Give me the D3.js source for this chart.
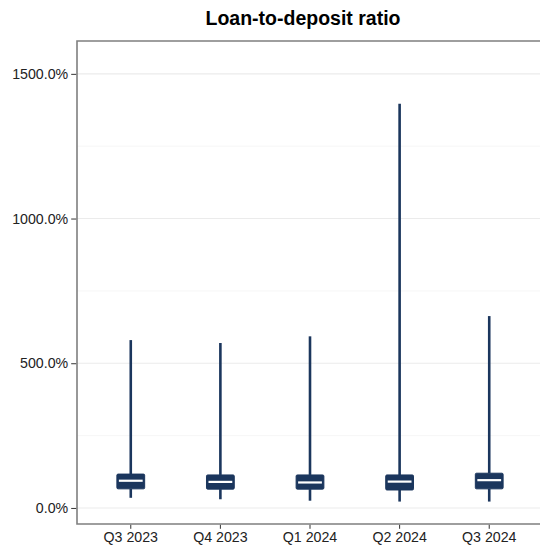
<!DOCTYPE html>
<html>
<head>
<meta charset="utf-8">
<script src="https://cdn.jsdelivr.net/npm/d3@7"></script>
<style>
  html, body { margin: 0; padding: 0; background: #fff; }
  svg { display: block; font-family: "Liberation Sans", Arial, sans-serif; }
</style>
</head>
<body>
<svg id="chart" width="540" height="547"></svg>
<script>
// Quarterly distribution of loan-to-deposit ratio (%)
const quarters = ["Q3 2023", "Q4 2023", "Q1 2024", "Q2 2024", "Q3 2024"];
const whiskerLow = [35, 30, 25, 22, 22];
const lowerQuartile = [66, 65, 65, 62, 66];
const medians = [94, 90, 88, 91, 96];
const upperQuartile = [117, 114, 114, 114, 120];
const whiskerHigh = [580, 570, 593, 1397, 663];
const yTicks = [0, 500, 1000, 1500];
const yMinorTicks = [250, 750, 1250];

const rows = quarters.map((q, i) => ({
  q, lo: whiskerLow[i], q1: lowerQuartile[i], med: medians[i],
  q3: upperQuartile[i], hi: whiskerHigh[i]
}));

const svg = d3.select("#chart");
const panel = { left: 77, right: 543, top: 41, bottom: 524 };
const navy = "#1b365d";

const x = d3.scaleBand()
  .domain(quarters)
  .range([panel.left, panel.right])
  .paddingOuter(0.1)
  .paddingInner(0);

const y = d3.scaleLinear()
  .domain([-55.5, 1613.5])
  .range([panel.bottom, panel.top]);

// grid
svg.append("g").selectAll("line.minor").data(yMinorTicks).join("line")
  .attr("x1", panel.left).attr("x2", panel.right)
  .attr("y1", d => y(d)).attr("y2", d => y(d))
  .attr("stroke", "#f5f5f5").attr("stroke-width", 0.8);
svg.append("g").selectAll("line.major").data(yTicks).join("line")
  .attr("x1", panel.left).attr("x2", panel.right)
  .attr("y1", d => y(d)).attr("y2", d => y(d))
  .attr("stroke", "#ebebeb").attr("stroke-width", 1.1);

// panel border (top, left, bottom)
svg.append("path")
  .attr("d", `M${panel.right},${panel.top}H${panel.left}V${panel.bottom}H${panel.right}`)
  .attr("fill", "none").attr("stroke", "#7f7f7f").attr("stroke-width", 1.6);

// axes
const yAxis = d3.axisLeft(y).tickValues(yTicks).tickSize(5).tickPadding(3)
  .tickFormat(d => d3.format(".1f")(d) + "%");
const gy = svg.append("g").attr("transform", `translate(${panel.left - 0.8},0)`).call(yAxis);
gy.select(".domain").remove();
gy.selectAll(".tick line").attr("stroke", "#333").attr("stroke-width", 1);
gy.selectAll(".tick text").attr("fill", "#222").attr("font-size", 14.2);

const xAxis = d3.axisBottom(x).tickSize(4).tickPadding(3);
const gx = svg.append("g").attr("transform", `translate(0,${panel.bottom + 0.8})`).call(xAxis);
gx.select(".domain").remove();
gx.selectAll(".tick line").attr("stroke", "#333").attr("stroke-width", 1);
gx.selectAll(".tick text").attr("fill", "#222").attr("font-size", 14.2);

// boxplots
const boxW = x.bandwidth() * 0.31;
const g = svg.append("g").selectAll("g").data(rows).join("g")
  .attr("transform", d => `translate(${x(d.q) + x.bandwidth() / 2},0)`);

g.append("line")
  .attr("y1", d => y(d.hi)).attr("y2", d => y(d.q3))
  .attr("stroke", navy).attr("stroke-width", 2.6);
g.append("line")
  .attr("y1", d => y(d.q1)).attr("y2", d => y(d.lo))
  .attr("stroke", navy).attr("stroke-width", 2.6);
g.append("rect")
  .attr("x", -boxW / 2).attr("width", boxW)
  .attr("y", d => y(d.q3)).attr("height", d => y(d.q1) - y(d.q3))
  .attr("rx", 1.2)
  .attr("fill", navy).attr("stroke", navy).attr("stroke-width", 1);
g.append("line")
  .attr("x1", -boxW / 2 + 2).attr("x2", boxW / 2 - 2)
  .attr("y1", d => y(d.med)).attr("y2", d => y(d.med))
  .attr("stroke", "#fff").attr("stroke-width", 2.2);

// title
svg.append("text")
  .attr("x", 303).attr("y", 25)
  .attr("text-anchor", "middle")
  .attr("font-weight", "bold").attr("font-size", 19.5).attr("fill", "#000")
  .text("Loan-to-deposit ratio");
</script>
</body>
</html>
